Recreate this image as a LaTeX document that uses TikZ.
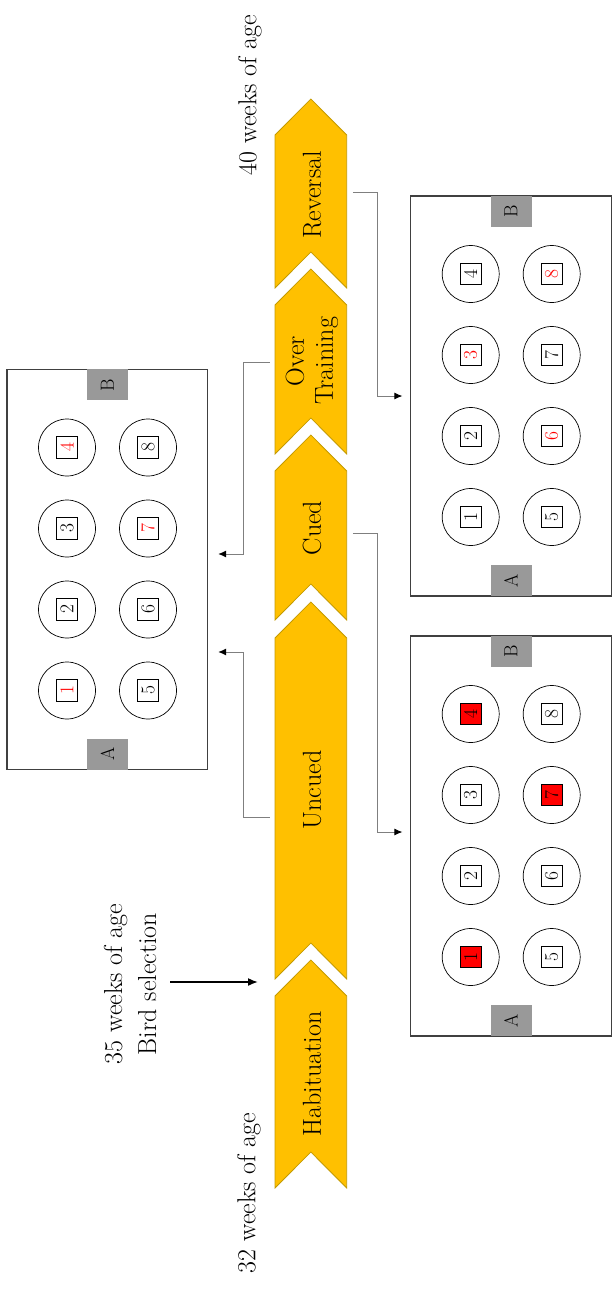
\documentclass[tikz,border=0pt]{standalone}
\usetikzlibrary{arrows.meta,calc}
\definecolor{chevfill}{HTML}{FFC000}
\definecolor{chevdraw}{HTML}{C49A00}
\definecolor{tabgray}{HTML}{999999}
\definecolor{boxline}{HTML}{404040}
\definecolor{connline}{HTML}{7F7F7F}
\definecolor{mred}{HTML}{FF0000}
\newcommand{\arena}[4]{%
  \node[arenabox] (#1) at (#2+100.3,#3+200) {};
  \node[tab] (#1B) at (#2+100.3,#3+15.4) {\rotatebox{90}{B}};
  \node[tab] (#1A) at (#2+100.3,#3+384.6) {\rotatebox{90}{A}};
  \foreach \d/\tc/\fc in {#4} {
    \pgfmathsetmacro{\cx}{#2+60+81*int((\d-1)/4)}
    \pgfmathsetmacro{\cy}{#3+321-81*mod(\d-1,4)}
    \node[well] (#1w\d) at (\cx,\cy) {};
    \node[sq,text=\tc,fill=\fc] (#1s\d) at (\cx,\cy) {\d};
  }%
}
\begin{document}
\begin{tikzpicture}[x=1pt,y=-1pt,
  chev/.style={fill=chevfill,draw=chevdraw,line width=0.8pt},
  body/.style={minimum width=71.7pt,inner sep=0pt,draw=none},
  phase/.style={rotate=90,font=\fontsize{26}{29}\selectfont,align=center,inner sep=0pt},
  lab/.style={rotate=90,font=\fontsize{26}{34}\selectfont,align=center,inner sep=0pt},
  arenabox/.style={draw=boxline,line width=1.1pt,fill=white,inner sep=0pt,minimum width=200.6pt,minimum height=400pt},
  tab/.style={fill=tabgray,minimum width=41pt,minimum height=31pt,inner sep=0pt,font=\fontsize{19}{19}\selectfont},
  well/.style={circle,draw=black,line width=0.7pt,minimum size=57pt,inner sep=0pt},
  sq/.style={draw=black,line width=0.6pt,minimum size=21.5pt,inner sep=0pt,rotate=90,font=\fontsize{19.5}{19.5}\selectfont},
  conn/.style={draw=connline,line width=1pt,-{Latex[length=8pt,width=7pt,color=black]}},
]
\useasboundingbox (0,0) rectangle (612,1290);

% chevrons
\draw[chev] (275,135)--(310.85,99)--(346.7,135)--(346.7,288)--(310.85,252)--(275,288)--cycle;
\draw[chev] (275,305)--(310.85,269)--(346.7,305)--(346.7,454)--(310.85,418)--(275,454)--cycle;
\draw[chev] (275,471)--(310.85,435)--(346.7,471)--(346.7,620)--(310.85,584)--(275,620)--cycle;
\draw[chev] (275,638)--(310.85,602)--(346.7,638)--(346.7,979)--(310.85,943)--(275,979)--cycle;
\draw[chev] (275,996)--(310.85,960)--(346.7,996)--(346.7,1188)--(310.85,1152)--(275,1188)--cycle;

\node[body,minimum height=117pt] (revb) at (310.85,193.5) {};
\node[body,minimum height=113pt] (otb) at (310.85,361.5) {};
\node[body,minimum height=113pt] (cueb) at (310.85,527.5) {};
\node[body,minimum height=305pt] (uncb) at (310.85,790.5) {};
\node[body,minimum height=156pt] (habb) at (310.85,1074) {};

\node[phase] (rev) at (312,195) {Reversal};
\node[phase] (ot) at (312,361) {Over\\Training};
\node[phase] (cue) at (312,528) {Cued};
\node[phase] (unc) at (312,790) {Uncued};
\node[phase] (hab) at (312,1074) {Habituation};

% age labels
\node[lab] (w40) at (250,95) {40 weeks of age};
\node[lab] (w32) at (249,1193) {32 weeks of age};
\node[lab] (w35) at (130,984) {35 weeks of age\\Bird selection};
\coordinate (birdstart) at (170,982);
\coordinate (birdtip) at (258,982);
\draw[line width=1.6pt,-{Latex[length=10pt,width=8pt]}] (birdstart) -- (birdtip);

% arenas
\arena{lbox}{7}{369.5}{1/mred/white,2/black/white,3/black/white,4/mred/white,5/black/white,6/black/white,7/mred/white,8/black/white}
\arena{rtop}{410.7}{196}{1/black/white,2/black/white,3/mred/white,4/black/white,5/black/white,6/mred/white,7/black/white,8/mred/white}
\arena{rbot}{410.7}{636}{1/black/mred,2/black/white,3/black/white,4/black/mred,5/black/white,6/black/white,7/black/mred,8/black/white}

% connectors
\draw[conn] ($(revb.east)+(6,-1.5)$) -- ++(25,0) |- ($(rtop.west)+(-7.7,0)$);
\draw[conn] ($(cueb.east)+(6,5.5)$) -- ++(25,0) |- ($(rbot.west)+(-7.7,-4)$);
\draw[conn] ($(otb.west)+(-5,0.5)$) -- ++(-26,0) |- ($(lbox.east)+(10,-15.5)$);
\draw[conn] ($(uncb.west)+(-5,26.5)$) -- ++(-26,0) |- ($(lbox.east)+(10,82.5)$);
\end{tikzpicture}
\end{document}
